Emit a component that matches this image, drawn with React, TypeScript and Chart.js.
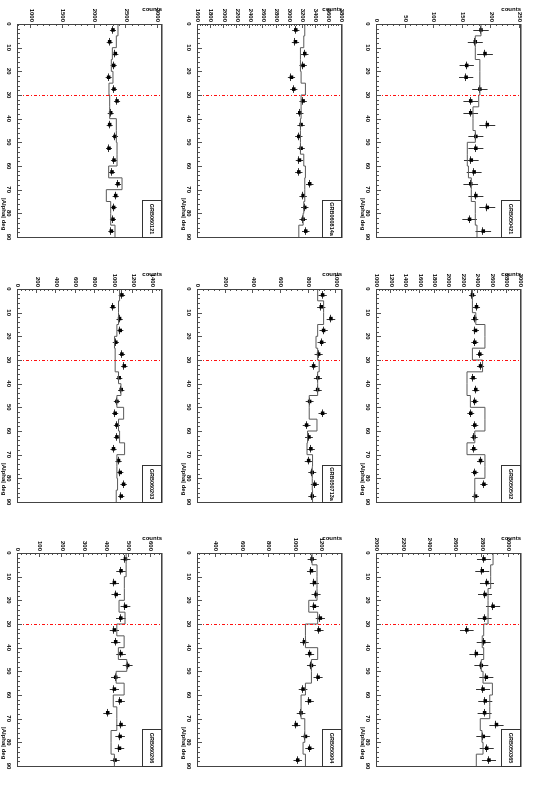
import React, { useEffect, useRef } from "react";
import { Chart, registerables } from "chart.js";

Chart.register(...registerables);

const FONT = "'Liberation Sans', Arial, Helvetica, sans-serif";

// |Alpha| binning (deg)
const alphaEdges = [0, 5, 10, 15, 20, 25, 30, 35, 40, 45, 50, 55, 60, 65, 70, 75, 80, 85, 90];
const alphaCenters = [2.5, 7.5, 12.5, 17.5, 22.5, 27.5, 32.5, 37.5, 42.5, 47.5, 52.5, 57.5, 62.5, 67.5, 72.5, 77.5, 82.5, 87.5];
const alphaTicks = [0, 10, 20, 30, 40, 50, 60, 70, 80, 90];
const alphaRange = [0, 90];
const alphaHalfErr = 1.6;
const cutAlpha = 30;
const alphaTitle = "|Alpha| deg";
const countsTitle = "counts";

// GRB050421
const grb050421Counts = [182, 172, 189, 157, 156, 180, 164, 164, 193, 173, 173, 165, 170, 164, 173, 193, 162, 186];
const grb050421Model = [182, 172, 172, 180, 180, 180, 178, 168, 168, 172, 158, 158, 160, 165, 165, 172, 172, 175];
const grb050421Ticks = [0, 50, 100, 150, 200, 250];
const grb050421Range = [0, 252];

// GRB050502
const grb050502Counts = [2325, 2382, 2358, 2368, 2358, 2428, 2438, 2335, 2372, 2358, 2302, 2358, 2349, 2344, 2438, 2358, 2485, 2368];
const grb050502Model = [2325, 2325, 2372, 2499, 2499, 2325, 2466, 2250, 2250, 2297, 2499, 2499, 2358, 2250, 2499, 2499, 2358, 2358];
const grb050502Ticks = [1000, 1200, 1400, 1600, 1800, 2000, 2200, 2400, 2600, 2800, 3000];
const grb050502Range = [1000, 3000];

// GRB050365
const grb050365Counts = [2811, 2798, 2834, 2819, 2880, 2816, 2681, 2809, 2753, 2791, 2829, 2804, 2821, 2816, 2906, 2806, 2832, 2849];
const grb050365Model = [2880, 2862, 2862, 2842, 2842, 2842, 2809, 2798, 2809, 2791, 2804, 2875, 2855, 2855, 2783, 2796, 2804, 2753];
const grb050365Ticks = [2000, 2200, 2400, 2600, 2800, 3000];
const grb050365Range = [2000, 3092];

// GRB060814a
const grb060814aCounts = [3094, 3089, 3231, 3206, 3028, 3063, 3206, 3155, 3175, 3140, 3175, 3150, 3140, 3307, 3206, 3231, 3206, 3246];
const grb060814aModel = [3231, 3216, 3165, 3165, 3175, 3241, 3175, 3175, 3165, 3165, 3165, 3216, 3241, 3231, 3231, 3216, 3206, 3140];
const grb060814aTicks = [1600, 1800, 2000, 2200, 2400, 2600, 2800, 3000, 3200, 3400, 3600, 3800];
const grb060814aRange = [1600, 3800];

// GRB050713a
const grb050713aCounts = [901, 891, 961, 908, 894, 872, 836, 867, 865, 807, 901, 785, 802, 816, 800, 826, 845, 826];
const grb050713aModel = [865, 908, 908, 865, 853, 865, 876, 865, 865, 804, 804, 860, 792, 788, 828, 826, 826, 828];
const grb050713aTicks = [0, 200, 400, 600, 800, 1000];
const grb050713aRange = [0, 1041];

// GRB050904
const grb050904Counts = [1125, 1120, 1142, 1155, 1142, 1187, 1177, 1067, 1107, 1120, 1170, 1057, 1105, 1042, 1005, 1075, 1107, 1017];
const grb050904Model = [1125, 1162, 1162, 1162, 1100, 1167, 1075, 1075, 1167, 1120, 1120, 1075, 1042, 1042, 1070, 1070, 1057, 1075];
const grb050904Ticks = [400, 600, 800, 1000, 1200];
const grb050904Range = [267, 1350];

// GRB060121
const grb060121Counts = [2289, 2237, 2326, 2300, 2221, 2305, 2353, 2253, 2237, 2321, 2226, 2305, 2274, 2368, 2332, 2300, 2289, 2263];
const grb060121Model = [2368, 2342, 2279, 2263, 2289, 2226, 2237, 2237, 2342, 2342, 2353, 2353, 2221, 2432, 2184, 2253, 2253, 2321];
const grb060121Ticks = [1000, 1500, 2000, 2500, 3000];
const grb060121Range = [790, 3063];

// GRB060203
const grb060203Counts = [1080, 986, 1056, 1063, 1017, 1080, 1105, 1052, 1073, 1028, 1010, 1028, 1028, 993, 1045, 1063, 1098, 1073];
const grb060203Model = [1056, 1045, 1045, 1028, 1003, 1010, 1010, 1045, 1070, 1028, 1098, 1045, 1056, 1108, 1028, 1028, 1035, 1021];
const grb060203Ticks = [0, 200, 400, 600, 800, 1000, 1200, 1400];
const grb060203Range = [0, 1497];

// GRB060206
const grb060206Counts = [485, 465, 435, 443, 485, 464, 435, 441, 465, 495, 441, 435, 461, 405, 465, 461, 458, 438];
const grb060206Model = [488, 488, 480, 480, 456, 483, 446, 479, 453, 491, 443, 479, 430, 446, 446, 420, 420, 435];
const grb060206Ticks = [0, 100, 200, 300, 400, 500, 600];
const grb060206Range = [0, 650];

type PanelDef = { name: string; counts: number[]; model: number[]; ticks: number[]; range: number[] };

const panelGrid: PanelDef[][] = [
  [
    { name: "GRB050421", counts: grb050421Counts, model: grb050421Model, ticks: grb050421Ticks, range: grb050421Range },
    { name: "GRB050502", counts: grb050502Counts, model: grb050502Model, ticks: grb050502Ticks, range: grb050502Range },
    { name: "GRB050365", counts: grb050365Counts, model: grb050365Model, ticks: grb050365Ticks, range: grb050365Range },
  ],
  [
    { name: "GRB060814a", counts: grb060814aCounts, model: grb060814aModel, ticks: grb060814aTicks, range: grb060814aRange },
    { name: "GRB050713a", counts: grb050713aCounts, model: grb050713aModel, ticks: grb050713aTicks, range: grb050713aRange },
    { name: "GRB050904", counts: grb050904Counts, model: grb050904Model, ticks: grb050904Ticks, range: grb050904Range },
  ],
  [
    { name: "GRB060121", counts: grb060121Counts, model: grb060121Model, ticks: grb060121Ticks, range: grb060121Range },
    { name: "GRB060203", counts: grb060203Counts, model: grb060203Model, ticks: grb060203Ticks, range: grb060203Range },
    { name: "GRB060206", counts: grb060206Counts, model: grb060206Model, ticks: grb060206Ticks, range: grb060206Range },
  ],
];

const CELL_W = 265;
const CELL_H = 179;
const TOTAL_W = 794;
const TOTAL_H = 538;

function Panel({ def }: { def: PanelDef }) {
  const ref = useRef<HTMLCanvasElement | null>(null);

  useEffect(() => {
    const canvas = ref.current;
    if (!canvas) return;
    const font6 = { family: FONT, size: 6, weight: "bold" as const };

    const modelPoints = alphaEdges.map((a, i) => ({ x: a, y: def.model[Math.min(i, def.model.length - 1)] }));
    const dataPoints = alphaCenters.map((a, i) => ({ x: a, y: def.counts[i] }));

    const overlay = {
      id: "overlay",
      beforeDatasetsDraw(chart: any) {
        const { ctx, scales } = chart;
        const xs = scales.x;
        const ys = scales.y;
        ctx.save();
        ctx.strokeStyle = "#333";
        ctx.lineWidth = 1;
        def.counts.forEach((v, i) => {
          const err = Math.sqrt(v);
          const px = Math.round(xs.getPixelForValue(alphaCenters[i])) + 0.5;
          const py = Math.round(ys.getPixelForValue(v)) + 0.5;
          ctx.beginPath();
          ctx.moveTo(px, ys.getPixelForValue(v - err));
          ctx.lineTo(px, ys.getPixelForValue(v + err));
          ctx.moveTo(xs.getPixelForValue(alphaCenters[i] - alphaHalfErr), py);
          ctx.lineTo(xs.getPixelForValue(alphaCenters[i] + alphaHalfErr), py);
          ctx.stroke();
        });
        ctx.restore();
      },
      afterDraw(chart: any) {
        const { ctx, chartArea: a, scales } = chart;
        const xs = scales.x;
        const ys = scales.y;
        ctx.save();
        // cut line at alpha = 30
        const cx = Math.round(xs.getPixelForValue(cutAlpha)) + 0.5;
        ctx.strokeStyle = "#ff1010";
        ctx.lineWidth = 1;
        ctx.setLineDash([3, 2, 1, 2]);
        ctx.beginPath();
        ctx.moveTo(cx, a.bottom);
        ctx.lineTo(cx, a.top);
        ctx.stroke();
        ctx.setLineDash([]);

        // ticks (inside frame)
        ctx.strokeStyle = "#555";
        ctx.beginPath();
        const yt = def.ticks;
        const ystep = yt.length > 1 ? yt[1] - yt[0] : 1;
        const yminor = ystep / 5;
        const ymin = def.range[0];
        const ymax = def.range[1];
        const start = yt[0] - Math.floor((yt[0] - ymin) / yminor) * yminor;
        for (let v = start; v <= ymax + 1e-6; v += yminor) {
          const isMajor = Math.abs((v - yt[0]) / ystep - Math.round((v - yt[0]) / ystep)) < 1e-6;
          const py = Math.round(ys.getPixelForValue(v)) + 0.5;
          ctx.moveTo(a.left, py);
          ctx.lineTo(a.left + (isMajor ? 4 : 2), py);
        }
        const xstep = alphaTicks[1] - alphaTicks[0];
        const xminor = xstep / 5;
        for (let v = alphaRange[0]; v <= alphaRange[1] + 1e-6; v += xminor) {
          const isMajor = Math.abs(v / xstep - Math.round(v / xstep)) < 1e-6;
          const px = Math.round(xs.getPixelForValue(v)) + 0.5;
          ctx.moveTo(px, a.bottom);
          ctx.lineTo(px, a.bottom - (isMajor ? 4 : 2));
        }
        ctx.stroke();

        // frame
        ctx.strokeStyle = "#444";
        ctx.lineWidth = 1;
        ctx.strokeRect(Math.round(a.left) + 0.5, Math.round(a.top) + 0.5, Math.round(a.right - a.left), Math.round(a.bottom - a.top));
        ctx.strokeStyle = "#999";
        ctx.beginPath();
        ctx.moveTo(Math.round(a.left), Math.round(a.top) - 0.5);
        ctx.lineTo(Math.round(a.right) + 1, Math.round(a.top) - 0.5);
        ctx.stroke();

        // legend box
        const bw = 37;
        const bh = 19;
        const bx = Math.round(a.right) - bw + 0.5;
        const by = Math.round(a.top) + 0.5;
        ctx.fillStyle = "#fff";
        ctx.fillRect(bx, by, bw, bh);
        ctx.strokeStyle = "#333";
        ctx.strokeRect(bx, by, bw, bh);
        ctx.fillStyle = "#000";
        ctx.font = `bold 5.5px ${FONT}`;
        ctx.textAlign = "center";
        ctx.textBaseline = "middle";
        ctx.fillText(def.name, bx + bw / 2, by + bh / 2);
        ctx.restore();
      },
    };

    const chart = new Chart(canvas, {
      type: "line",
      data: {
        datasets: [
          {
            label: "model",
            data: modelPoints,
            stepped: true,
            borderColor: "#5a5a5a",
            borderWidth: 1,
            pointRadius: 0,
            fill: false,
          },
          {
            label: "data",
            data: dataPoints,
            showLine: false,
            pointStyle: "rect",
            pointRadius: 2.5,
            backgroundColor: "#000",
            borderColor: "#000",
            borderWidth: 0,
          },
        ],
      },
      options: {
        animation: false,
        responsive: false,
        devicePixelRatio: 1,
        layout: { padding: { left: 0, top: 17, right: 28, bottom: 0 } },
        plugins: { legend: { display: false }, tooltip: { enabled: false } },
        scales: {
          x: {
            type: "linear",
            position: "bottom",
            min: alphaRange[0],
            max: alphaRange[1],
            afterBuildTicks: (s: any) => {
              s.ticks = alphaTicks.map((v) => ({ value: v }));
            },
            afterFit: (s: any) => {
              s.height = 18;
            },
            grid: { display: false, drawTicks: false },
            border: { display: false },
            ticks: {
              font: font6,
              color: "#000",
              padding: 6,
              maxRotation: 0,
              minRotation: 0,
              autoSkip: false,
              includeBounds: false,
              callback: (v: any) => String(v),
            },
            title: { display: true, text: alphaTitle + "\u00a0\u00a0\u00a0\u00a0", align: "end", color: "#000", font: font6, padding: { top: 0, bottom: 0 } },
          },
          y: {
            type: "linear",
            position: "left",
            min: def.range[0],
            max: def.range[1],
            afterBuildTicks: (s: any) => {
              s.ticks = def.ticks.map((v) => ({ value: v }));
            },
            afterFit: (s: any) => {
              s.width = 24;
            },
            grid: { display: false, drawTicks: false },
            border: { display: false },
            ticks: {
              font: font6,
              color: "#000",
              padding: 2,
              autoSkip: false,
              includeBounds: false,
              callback: (v: any) => String(v),
            },
            title: { display: true, text: countsTitle, align: "end", color: "#000", font: font6, padding: { top: 5.5, bottom: 0 } },
          },
        },
      },
      plugins: [overlay],
    } as any);
    return () => chart.destroy();
  }, [def]);

  return <canvas ref={ref} width={CELL_W} height={CELL_H} style={{ display: "block", width: CELL_W, height: CELL_H }} />;
}

export default function App() {
  return (
    <div
      style={{
        position: "fixed",
        left: 0,
        top: 0,
        width: TOTAL_W,
        height: TOTAL_H,
        background: "#fff",
        transformOrigin: "0 0",
        transform: `translate(${TOTAL_H}px, 0px) rotate(90deg)`,
      }}
    >
      {panelGrid.map((row, r) =>
        row.map((def, c) => (
          <div
            key={def.name}
            style={{ position: "absolute", left: Math.round((c * TOTAL_W) / 3), top: Math.round((r * TOTAL_H) / 3), width: CELL_W, height: CELL_H }}
          >
            <Panel def={def} />
          </div>
        ))
      )}
    </div>
  );
}
